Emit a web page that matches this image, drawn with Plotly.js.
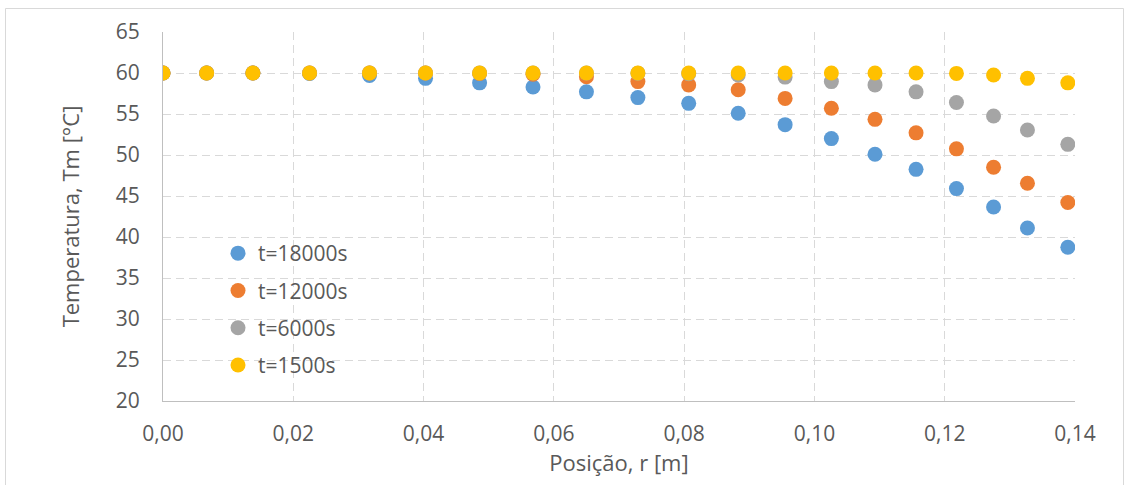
<!DOCTYPE html>
<html>
<head>
<meta charset="utf-8">
<script src="https://cdn.plot.ly/plotly-3.0.1.min.js"></script>
<style>
  html, body { margin: 0; padding: 0; background: #ffffff; }
  #chart { width: 1129px; height: 485px; }
</style>
</head>
<body>
<div id="chart"></div>
<script>
// Data
const posicao = [0, 0.0067, 0.0138, 0.0225, 0.0317, 0.0403, 0.0486, 0.0568, 0.0650, 0.0729,
                 0.0807, 0.0883, 0.0955, 0.1026, 0.1093, 0.1156, 0.1218, 0.1275, 0.1327, 0.1389];
const t18000 = [60, 60, 60, 59.95, 59.7, 59.35, 58.8, 58.3, 57.7, 57.0,
                56.3, 55.1, 53.7, 52.0, 50.1, 48.25, 45.9, 43.65, 41.1, 38.75];
const t12000 = [60, 60, 60, 60, 60, 60, 59.95, 59.85, 59.55, 58.95,
                58.55, 57.95, 56.9, 55.7, 54.35, 52.7, 50.75, 48.5, 46.55, 44.2];
const t6000  = [60, 60, 60, 60, 60, 60, 60, 60, 60, 59.98,
                59.92, 59.75, 59.5, 58.95, 58.55, 57.7, 56.4, 54.75, 53.05, 51.3];
const t1500  = [60, 60, 60, 60, 60, 60, 60, 60, 60, 60,
                60, 60, 60, 60, 60, 60, 59.95, 59.75, 59.35, 58.8];
const seriesNames = ["t=18000s", "t=12000s", "t=6000s", "t=1500s"];
const seriesColors = ["#5b9bd5", "#ed7d31", "#a5a5a5", "#ffc000"];
const seriesValues = [t18000, t12000, t6000, t1500];
const xTicks = [0, 0.02, 0.04, 0.06, 0.08, 0.10, 0.12, 0.14];
const yTicks = [20, 25, 30, 35, 40, 45, 50, 55, 60, 65];

const traces = seriesValues.map((vals, i) => ({
  type: "scatter",
  mode: "markers",
  x: posicao,
  y: vals,
  name: seriesNames[i],
  legendgroup: "g" + i,
  marker: { color: seriesColors[i], size: 15, line: { width: 0 } },
  hoverinfo: "skip"
}));

// plot area: x 163..1075, y 32..401
const L = 163, R = 1075, T = 32, B = 401;
const pw = R - L, ph = B - T;

const layout = {
  width: 1129,
  height: 485,
  margin: { l: L, r: 1129 - R, t: T, b: 485 - B },
  paper_bgcolor: "#ffffff",
  plot_bgcolor: "#ffffff",
  separators: ",.",
  font: { family: "'Open Sans', 'Noto Sans', sans-serif", color: "#595959", size: 21 },
  showlegend: true,
  hovermode: false,
  xaxis: {
    range: [0, 0.14],
    tickvals: xTicks,
    tickformat: ".2f",
    showgrid: true,
    gridcolor: "#d9d9d9",
    gridwidth: 1,
    griddash: "8px,5px",
    zeroline: false,
    showline: true,
    linecolor: "#bfbfbf",
    linewidth: 1,
    ticks: "",
    ticklabelstandoff: 14,
    tickfont: { size: 21, color: "#595959" },
    title: { text: "Posição, r [m]", font: { size: 22, color: "#595959" }, standoff: 6 },
    fixedrange: true
  },
  yaxis: {
    range: [20, 65],
    tickvals: yTicks,
    showgrid: true,
    gridcolor: "#d9d9d9",
    gridwidth: 1,
    griddash: "8px,5px",
    zeroline: false,
    showline: true,
    linecolor: "#bfbfbf",
    linewidth: 1,
    ticks: "",
    ticklabelstandoff: 18,
    tickfont: { size: 21, color: "#595959" },
    title: { text: "Temperatura, Tm [°C]", font: { size: 22, color: "#595959" }, standoff: 30 },
    fixedrange: true
  },
  legend: {
    x: (218 - L) / pw,
    y: (B - 233) / ph,
    xanchor: "left",
    yanchor: "top",
    bgcolor: "rgba(0,0,0,0)",
    borderwidth: 0,
    traceorder: "grouped",
    tracegroupgap: 7,
    font: { size: 21, color: "#595959" }
  },
  shapes: [{
    type: "rect",
    xref: "paper", yref: "paper",
    x0: (5.5 - L) / pw, x1: (1123.5 - L) / pw,
    y0: (B - 490) / ph, y1: (B - 8.5) / ph,
    line: { color: "#d9d9d9", width: 1 },
    fillcolor: "rgba(0,0,0,0)",
    layer: "below"
  }]
};

Plotly.newPlot("chart", traces, layout, { displayModeBar: false, staticPlot: true });
</script>
</body>
</html>
